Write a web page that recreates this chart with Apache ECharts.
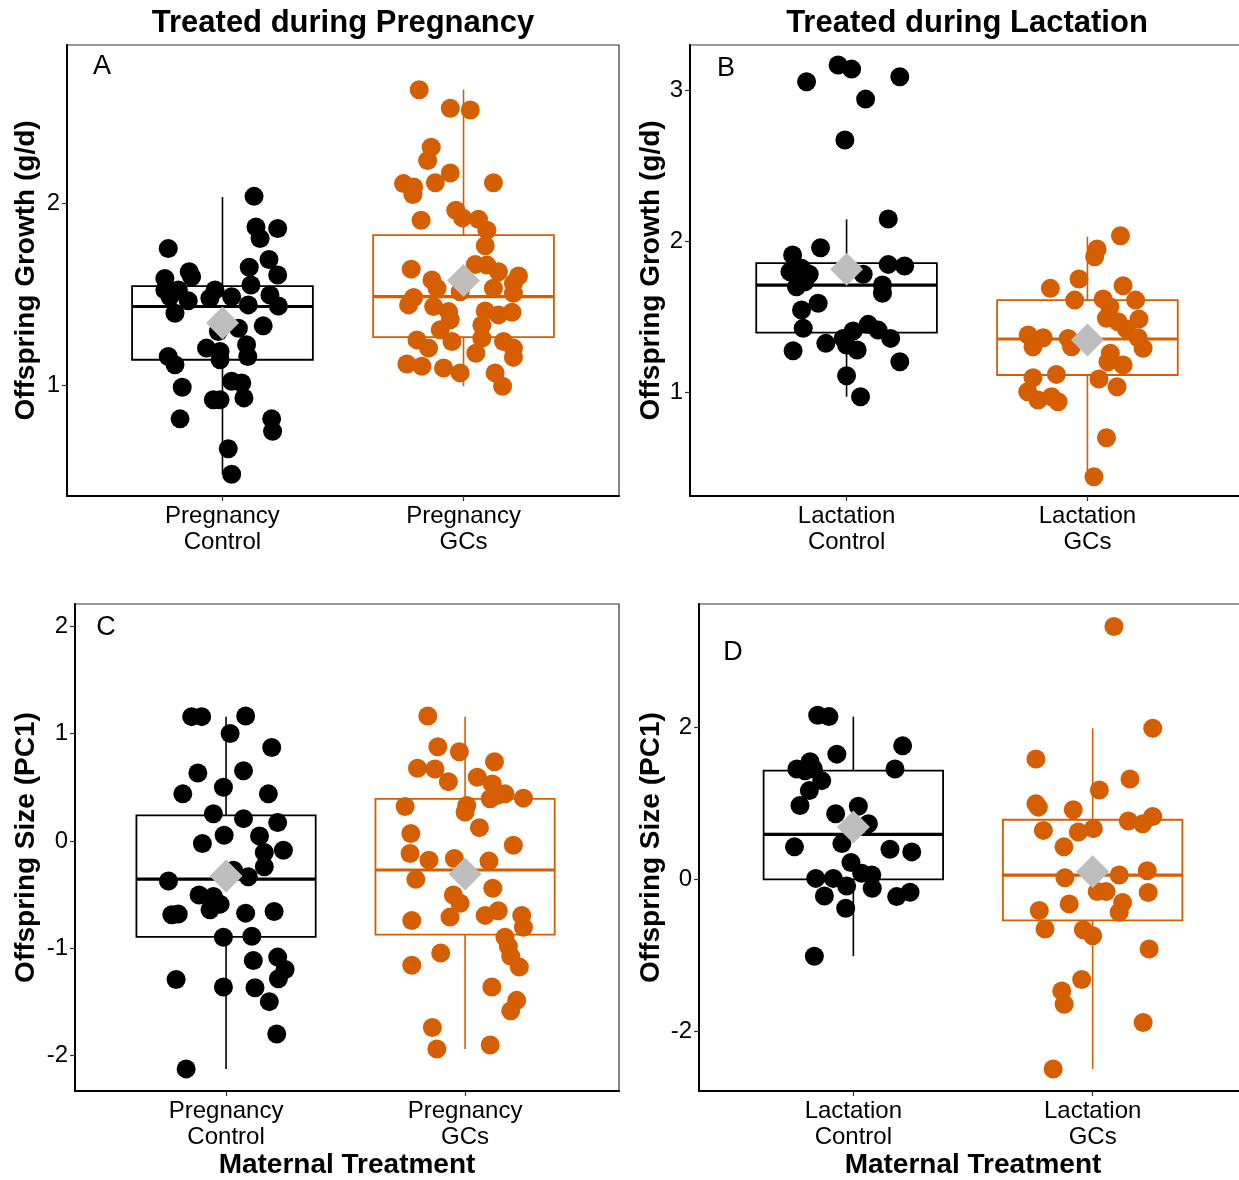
<!DOCTYPE html>
<html>
<head>
<meta charset="utf-8">
<script src="https://cdn.jsdelivr.net/npm/echarts@6/dist/echarts.min.js"></script>
<style>
html,body{margin:0;padding:0;background:#fff;overflow:hidden;}
#chart{width:1260px;height:1180px;}
</style>
</head>
<body>
<div id="chart"></div>
<script>
// ---------- DATA ----------
const panelTitles = ['Treated during Pregnancy', 'Treated during Lactation'];
const panelLetters = ['A', 'B', 'C', 'D'];
const catLabelsPreg = ['Pregnancy\nControl', 'Pregnancy\nGCs'];
const catLabelsLact = ['Lactation\nControl', 'Lactation\nGCs'];
const yNameGrowth = 'Offspring Growth (g/d)';
const yNameSize = 'Offspring Size (PC1)';
const xNameBottom = 'Maternal Treatment';

const yTicksA = [1, 2];
const yTicksB = [1, 2, 3];
const yTicksC = [-2, -1, 0, 1, 2];
const yTicksD = [-2, 0, 2];

// Panel A: growth, pregnancy
const aCtrl = [2.038,1.870,1.862,1.807,1.752,1.692,1.649,1.607,1.625,1.588,1.597,1.552,1.525,1.525,1.525,1.479,1.488,1.466,1.443,1.497,1.437,1.397,1.488,1.328,1.315,1.297,1.206,1.188,1.142,1.224,1.160,1.160,1.115,0.991,1.024,1.015,0.933,0.923,0.923,0.818,0.818,0.750,0.654,0.514];
const aCtrlJitter = [0.131,0.139,0.229,0.156,-0.225,0.193,0.111,0.229,-0.138,-0.239,-0.128,0.118,-0.239,-0.183,-0.031,-0.052,0.038,-0.142,0.107,0.197,0.232,-0.197,-0.218,0.169,0.066,-0.017,-0.066,-0.010,-0.010,0.100,0.105,-0.225,-0.197,-0.167,0.038,0.080,0.089,-0.038,-0.010,-0.176,0.204,0.208,0.024,0.038];
const aGCs = [2.623,2.521,2.512,2.308,2.235,2.166,2.108,2.089,2.048,2.113,2.113,1.907,1.962,1.920,1.913,1.852,1.767,1.639,1.665,1.661,1.625,1.601,1.579,1.534,1.515,1.534,1.561,1.507,1.443,1.483,1.434,1.406,1.410,1.388,1.403,1.361,1.333,1.306,1.242,1.251,1.206,1.260,1.242,1.206,1.178,1.155,1.119,1.106,1.097,1.070,1.070,0.997];
const aGCsJitter = [-0.184,-0.055,0.028,-0.134,-0.149,-0.055,-0.249,-0.207,-0.210,-0.117,0.124,-0.176,-0.032,-0.004,0.062,0.097,0.090,-0.217,0.049,0.097,0.145,0.228,-0.131,-0.110,-0.014,0.124,0.207,0.207,-0.228,-0.207,-0.124,-0.062,0.090,0.145,0.201,-0.055,0.076,-0.097,-0.048,-0.193,-0.145,0.076,0.166,0.207,0.051,0.207,-0.235,-0.173,-0.083,-0.014,0.131,0.162];
// box stats: [lower whisker, Q1, median, Q3, upper whisker]
const aCtrlBox = [0.514, 1.142, 1.434, 1.546, 2.034];
const aGCsBox = [0.997, 1.266, 1.488, 1.825, 2.623];
const aMeans = [1.343, 1.576];

// Panel B: growth, lactation
const bCtrl = [3.059,3.170,3.143,3.092,2.944,2.672,2.148,1.958,1.909,1.798,1.821,1.781,1.699,1.732,1.847,1.836,1.781,1.710,1.655,1.589,1.544,1.423,1.274,1.323,1.356,1.405,1.449,1.411,1.356,1.279,1.312,1.201,1.108,0.969];
const bCtrlJitter = [-0.166,-0.035,0.021,0.221,0.079,-0.007,0.173,-0.108,-0.224,-0.235,-0.187,-0.155,-0.208,-0.173,0.173,0.241,0.069,0.149,0.149,-0.118,-0.187,-0.180,-0.222,-0.086,-0.014,0.027,0.090,0.131,0.183,0.044,0.000,0.221,0.000,0.058];
const bGCs = [2.037,1.949,1.898,1.750,1.688,1.705,1.610,1.617,1.566,1.610,1.489,1.467,1.418,1.484,1.360,1.290,1.378,1.360,1.301,1.356,1.301,1.257,1.201,1.179,1.086,1.035,1.117,1.095,1.002,0.947,0.969,0.936,0.697,0.438];
const bGCsJitter = [0.137,0.040,0.030,-0.035,-0.154,0.148,-0.053,0.065,0.093,0.200,0.079,0.127,0.162,0.214,0.210,0.231,-0.246,-0.184,-0.226,-0.080,-0.066,0.095,0.085,0.148,0.048,0.123,-0.129,-0.226,-0.248,-0.205,-0.149,-0.122,0.079,0.027];
const bCtrlBox = [0.969, 1.394, 1.710, 1.856, 2.146];
const bGCsBox = [0.438, 1.113, 1.352, 1.610, 2.031];
const bMeans = [1.814, 1.345];

// Panel C: size, pregnancy
const cCtrl = [1.159,1.159,1.165,1.002,0.872,0.634,0.655,0.439,0.501,0.439,0.254,0.208,0.171,0.053,0.047,-0.024,-0.086,-0.108,-0.240,-0.272,-0.333,-0.373,-0.503,-0.518,-0.589,-0.642,-0.688,-0.682,-0.673,-0.657,-0.898,-0.889,-1.115,-1.083,-1.198,-1.285,-1.291,-1.361,-1.368,-1.498,-1.800,-2.125];
const cCtrlJitter = [-0.144,-0.102,0.082,0.017,0.191,-0.118,0.073,-0.181,-0.011,0.177,-0.053,0.073,0.216,-0.008,0.140,-0.099,0.240,0.160,0.160,0.031,0.093,-0.241,-0.113,-0.053,-0.025,-0.067,-0.227,-0.200,0.082,0.201,-0.011,0.108,0.114,0.216,0.247,0.219,-0.209,-0.011,0.121,0.181,0.212,-0.167];
const cGCs = [1.165,0.878,0.831,0.739,0.677,0.671,0.553,0.594,0.532,0.439,0.393,0.424,0.399,0.322,0.331,0.270,0.124,0.069,-0.040,-0.117,-0.179,-0.163,-0.188,-0.358,-0.441,-0.503,-0.580,-0.710,-0.694,-0.651,-0.741,-0.694,-0.805,-0.898,-0.981,-1.074,-1.176,-1.044,-1.158,-1.361,-1.486,-1.584,-1.739,-1.940,-1.903];
const cGCsJitter = [-0.156,-0.114,-0.024,0.123,-0.199,-0.126,-0.070,0.051,0.114,0.167,0.105,0.133,0.244,-0.251,0.007,0.000,0.060,-0.227,0.202,-0.230,-0.151,-0.045,0.100,-0.206,0.116,-0.049,-0.021,-0.063,0.084,0.139,-0.223,0.237,0.244,0.167,0.181,0.191,0.227,-0.102,-0.223,0.112,0.216,0.191,-0.137,-0.118,0.105];
const cCtrlBox = [-2.125, -0.895, -0.355, 0.238, 1.159];
const cGCsBox = [-1.940, -0.874, -0.271, 0.393, 1.159];
const cMeans = [-0.327, -0.308];

// Panel D: size, lactation
const dCtrl = [2.160,2.143,1.758,1.649,1.549,1.453,1.431,1.453,1.453,1.300,1.169,0.973,0.964,0.864,0.733,0.428,0.471,0.397,0.362,0.223,0.079,0.057,0.013,0.013,-0.087,-0.118,-0.218,-0.227,-0.170,-0.380,-1.012];
const dCtrlJitter = [-0.149,-0.102,0.206,-0.069,-0.181,-0.236,-0.202,-0.167,0.174,-0.132,-0.184,-0.223,0.021,-0.074,0.063,-0.246,-0.048,0.153,0.244,-0.010,0.035,0.077,-0.157,-0.084,-0.028,0.079,-0.121,0.181,0.237,-0.032,-0.163];
const dGCs = [3.329,1.990,1.584,1.322,1.178,0.995,0.951,0.916,0.768,0.733,0.829,0.645,0.624,0.668,0.428,0.022,0.057,0.114,-0.161,-0.161,-0.174,-0.323,-0.305,-0.432,-0.410,-0.654,-0.663,-0.742,-0.916,-1.318,-1.470,-1.645,-1.885,-2.496];
const dGCsJitter = [0.089,0.251,-0.237,0.156,0.028,-0.237,-0.227,-0.081,0.149,0.209,0.251,-0.206,-0.060,0.003,-0.120,-0.116,0.111,0.228,0.019,0.056,0.232,-0.098,0.125,0.111,-0.223,-0.199,-0.039,0.000,0.236,-0.046,-0.129,-0.119,0.211,-0.165];
const dCtrlBox = [-1.012, 0.000, 0.593, 1.431, 2.143];
const dGCsBox = [-2.496, -0.541, 0.057, 0.785, 1.990];
const dMeans = [0.690, 0.101];

// ---------- STYLE ----------
const FONT = "'Liberation Sans', Arial, Helvetica, sans-serif";
const COLORS = ['#000000', '#D55E00'];
const MEAN_COLOR = '#BEBEBE';

const panels = [
  {grid:{left:67, top:45, width:552, height:451}, xMin:0.355, xMax:2.645, yMin:0.395, yMax:2.868, yTicks:yTicksA, cats:catLabelsPreg, yName:yNameGrowth, yGap:27, xName:'',
   ctrl:aCtrl, ctrlJ:aCtrlJitter, gcs:aGCs, gcsJ:aGCsJitter, boxes:[aCtrlBox,aGCsBox], means:aMeans},
  {grid:{left:690, top:45, width:554, height:451}, xMin:0.35, xMax:2.65, yMin:0.310, yMax:3.303, yTicks:yTicksB, cats:catLabelsLact, yName:yNameGrowth, yGap:25, xName:'',
   ctrl:bCtrl, ctrlJ:bCtrlJitter, gcs:bGCs, gcsJ:bGCsJitter, boxes:[bCtrlBox,bGCsBox], means:bMeans},
  {grid:{left:75, top:604, width:544, height:490}, xMin:0.368, xMax:2.644, yMin:-2.332, yMax:2.209, yTicks:yTicksC, cats:catLabelsPreg, yName:yNameSize, yGap:35, xName:xNameBottom,
   ctrl:cCtrl, ctrlJ:cCtrlJitter, gcs:cGCs, gcsJ:cGCsJitter, boxes:[cCtrlBox,cGCsBox], means:cMeans},
  {grid:{left:699, top:604, width:548, height:490}, xMin:0.355, xMax:2.645, yMin:-2.788, yMax:3.626, yTicks:yTicksD, cats:catLabelsLact, yName:yNameSize, yGap:34, xName:xNameBottom,
   ctrl:dCtrl, ctrlJ:dCtrlJitter, gcs:dGCs, gcsJ:dGCsJitter, boxes:[dCtrlBox,dGCsBox], means:dMeans}
];

function renderBox(params, api) {
  const x = api.value(0);
  const lo = api.value(1), q1 = api.value(2), med = api.value(3), q3 = api.value(4), hi = api.value(5);
  const color = COLORS[api.value(6)];
  const hw = 0.375;
  const tl = api.coord([x - hw, q3]);
  const br = api.coord([x + hw, q1]);
  const mL = api.coord([x - hw, med]);
  const mR = api.coord([x + hw, med]);
  const pHi = api.coord([x, hi]);
  const pQ3 = api.coord([x, q3]);
  const pQ1 = api.coord([x, q1]);
  const pLo = api.coord([x, lo]);
  return {
    type: 'group',
    children: [
      {type:'line', shape:{x1:pHi[0], y1:pHi[1], x2:pQ3[0], y2:pQ3[1]}, style:{stroke:color, lineWidth:1.6}},
      {type:'line', shape:{x1:pQ1[0], y1:pQ1[1], x2:pLo[0], y2:pLo[1]}, style:{stroke:color, lineWidth:1.6}},
      {type:'rect', shape:{x:tl[0], y:tl[1], width:br[0]-tl[0], height:br[1]-tl[1]}, style:{fill:'rgba(255,255,255,0)', stroke:color, lineWidth:1.8}},
      {type:'line', shape:{x1:mL[0], y1:mL[1], x2:mR[0], y2:mR[1]}, style:{stroke:color, lineWidth:3.2}}
    ]
  };
}

const grids = [], xAxes = [], yAxes = [], series = [];
panels.forEach((p, i) => {
  grids.push(Object.assign({show:true, borderColor:'#333', borderWidth:1.2, containLabel:false}, p.grid));
  xAxes.push({
    gridIndex:i, type:'value', min:p.xMin, max:p.xMax,
    axisLine:{show:true, onZero:false, lineStyle:{color:'#000', width:2}},
    axisTick:{show:true, length:5, customValues:[1,2], lineStyle:{color:'#333', width:1.2}},
    axisLabel:{customValues:[1,2], formatter:(v)=> p.cats[Math.round(v)-1] || '', fontSize:24, lineHeight:26, color:'#000', fontFamily:FONT, margin:7},
    splitLine:{show:false},
    name:p.xName, nameLocation:'middle', nameGap:59,
    nameTextStyle:{fontSize:28, fontWeight:'bold', color:'#000', fontFamily:FONT}
  });
  yAxes.push({
    gridIndex:i, type:'value', min:p.yMin, max:p.yMax,
    axisLine:{show:true, onZero:false, lineStyle:{color:'#000', width:2}},
    axisTick:{show:true, length:5, customValues:p.yTicks, lineStyle:{color:'#333', width:1.2}},
    axisLabel:{customValues:p.yTicks, fontSize:24, color:'#000', fontFamily:FONT, margin:7},
    splitLine:{show:false},
    name:p.yName, nameLocation:'middle', nameGap:p.yGap,
    nameTextStyle:{fontSize:28, fontWeight:'bold', color:'#000', fontFamily:FONT}
  });
  series.push({
    type:'custom', xAxisIndex:i, yAxisIndex:i, z:2, silent:true,
    renderItem:renderBox,
    encode:{x:0, y:[1,2,3,4,5]},
    data:[[1].concat(p.boxes[0], [0]), [2].concat(p.boxes[1], [1])]
  });
  series.push({
    type:'scatter', xAxisIndex:i, yAxisIndex:i, z:3, symbol:'circle', symbolSize:19, silent:true,
    itemStyle:{color:COLORS[0], opacity:1},
    data:p.ctrl.map((v, k) => [1 + p.ctrlJ[k], v])
  });
  series.push({
    type:'scatter', xAxisIndex:i, yAxisIndex:i, z:3, symbol:'circle', symbolSize:19, silent:true,
    itemStyle:{color:COLORS[1], opacity:1},
    data:p.gcs.map((v, k) => [2 + p.gcsJ[k], v])
  });
  series.push({
    type:'scatter', xAxisIndex:i, yAxisIndex:i, z:4, symbol:'diamond', symbolSize:33, silent:true,
    itemStyle:{color:MEAN_COLOR, opacity:1},
    data:p.means.map((v, k) => [k + 1, v])
  });
});

const letterPos = [[102, 67], [726, 69], [106, 628], [733, 653]];
const graphics = [
  {type:'text', x:343, y:23, style:{text:panelTitles[0], font:"bold 31px " + FONT, fill:'#000', align:'center', verticalAlign:'middle'}},
  {type:'text', x:967, y:23, style:{text:panelTitles[1], font:"bold 31px " + FONT, fill:'#000', align:'center', verticalAlign:'middle'}}
];
panelLetters.forEach((L, i) => {
  graphics.push({type:'text', x:letterPos[i][0], y:letterPos[i][1], style:{text:L, font:"27px " + FONT, fill:'#000', align:'center', verticalAlign:'middle'}});
});

const chart = echarts.init(document.getElementById('chart'), null, {renderer:'canvas'});
chart.setOption({
  animation:false,
  backgroundColor:'#fff',
  textStyle:{fontFamily:FONT},
  grid:grids, xAxis:xAxes, yAxis:yAxes, series:series,
  graphic:graphics
});
</script>
</body>
</html>
